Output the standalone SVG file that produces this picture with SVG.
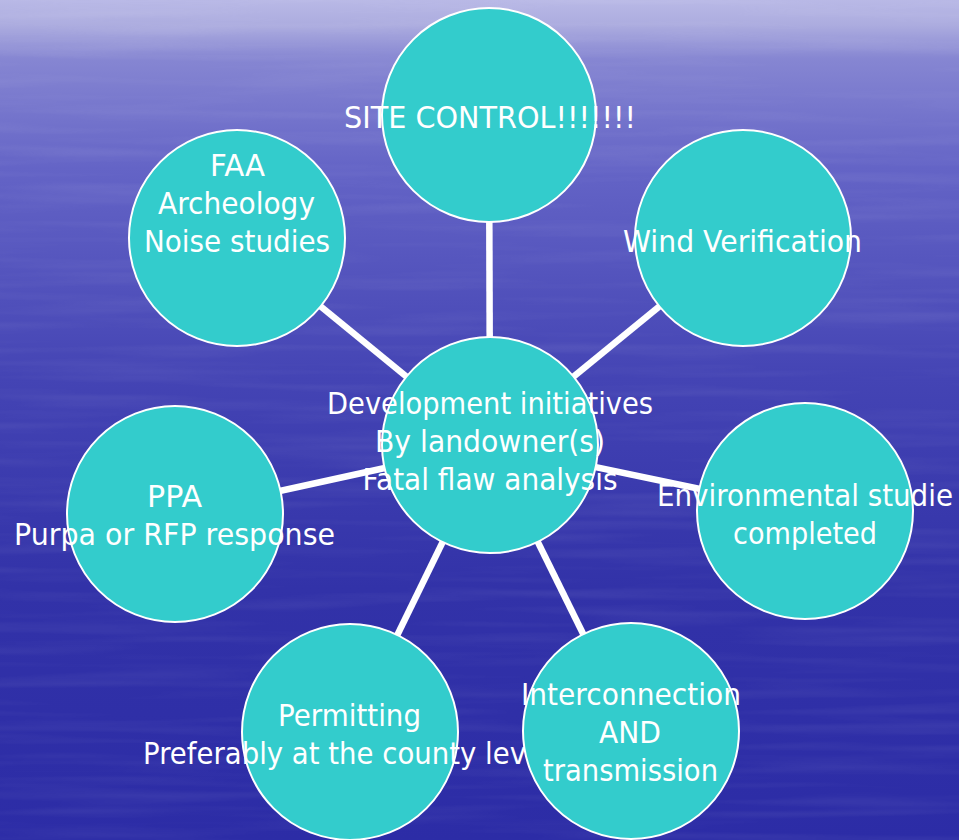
<svg xmlns="http://www.w3.org/2000/svg" width="959" height="840" viewBox="0 0 959 840">
<defs>
<linearGradient id="bg" x1="0" y1="0" x2="0" y2="1">
<stop offset="0" stop-color="#b9b9e6"/>
<stop offset="0.03" stop-color="#acacdf"/>
<stop offset="0.07" stop-color="#8686d2"/>
<stop offset="0.2" stop-color="#6464c6"/>
<stop offset="0.45" stop-color="#4444b4"/>
<stop offset="0.7" stop-color="#3232a8"/>
<stop offset="1" stop-color="#2c2ca6"/>
</linearGradient>
<filter id="streak" x="0" y="0" width="100%" height="100%">
<feTurbulence type="fractalNoise" baseFrequency="0.004 0.09" numOctaves="2" seed="3"/>
<feColorMatrix type="matrix" values="0 0 0 0 1  0 0 0 0 1  0 0 0 0 1  0 0 0 0.5 -0.22"/>
</filter>
<style>
.conn line{stroke:#ffffff;stroke-width:6.5;stroke-linecap:butt}
.node circle{fill:#33cccc;stroke:#ffffff;stroke-width:2}
.node text{fill:#ffffff;font-family:"DejaVu Sans","Liberation Sans",sans-serif;font-size:30px;text-anchor:middle}
</style>
</defs>
<rect width="959" height="840" fill="url(#bg)"/>
<rect width="959" height="840" filter="url(#streak)" opacity="0.28"/>
<g id="connectors" class="conn">
<line x1="490" y1="445" x2="489" y2="115"/>
<line x1="490" y1="445" x2="743" y2="238"/>
<line x1="490" y1="445" x2="237" y2="238"/>
<line x1="490" y1="445" x2="805" y2="511"/>
<line x1="490" y1="445" x2="175" y2="514"/>
<line x1="490" y1="445" x2="350" y2="732"/>
<line x1="490" y1="445" x2="631" y2="731"/>
</g>
<g id="center" class="node">
<circle cx="490" cy="445" r="108"/>
<text x="490" y="414" textLength="326" lengthAdjust="spacingAndGlyphs">Development initiatives</text>
<text x="490" y="452" textLength="230" lengthAdjust="spacingAndGlyphs">By landowner(s)</text>
<text x="490" y="490" textLength="255" lengthAdjust="spacingAndGlyphs">Fatal flaw analysis</text>
</g>
<g id="site-control" class="node">
<circle cx="489" cy="115" r="107"/>
<text x="490" y="128" textLength="292" lengthAdjust="spacingAndGlyphs">SITE CONTROL!!!!!!!</text>
</g>
<g id="wind" class="node">
<circle cx="743" cy="238" r="108"/>
<text x="742.5" y="252" textLength="239" lengthAdjust="spacingAndGlyphs">Wind Verification</text>
</g>
<g id="faa" class="node">
<circle cx="237" cy="238" r="108"/>
<text x="237.5" y="176" textLength="55" lengthAdjust="spacingAndGlyphs">FAA</text>
<text x="236.5" y="214" textLength="157" lengthAdjust="spacingAndGlyphs">Archeology</text>
<text x="237" y="252" textLength="186" lengthAdjust="spacingAndGlyphs">Noise studies</text>
</g>
<g id="ppa" class="node">
<circle cx="175" cy="514" r="108"/>
<text x="174.5" y="507" textLength="55" lengthAdjust="spacingAndGlyphs">PPA</text>
<text x="174.5" y="545" textLength="321" lengthAdjust="spacingAndGlyphs">Purpa or RFP response</text>
</g>
<g id="environmental" class="node">
<circle cx="805" cy="511" r="108"/>
<text x="657" y="506" style="text-anchor:start" textLength="296" lengthAdjust="spacingAndGlyphs">Environmental studie</text>
<text x="805" y="544" textLength="144" lengthAdjust="spacingAndGlyphs">completed</text>
</g>
<g id="permitting" class="node">
<circle cx="350" cy="732" r="108"/>
<text x="349.5" y="726" textLength="143" lengthAdjust="spacingAndGlyphs">Permitting</text>
<text x="143" y="764" style="text-anchor:start" textLength="383" lengthAdjust="spacingAndGlyphs">Preferably at the county lev</text>
</g>
<g id="interconnection" class="node">
<circle cx="631" cy="731" r="108"/>
<text x="631" y="705" textLength="220" lengthAdjust="spacingAndGlyphs">Interconnection</text>
<text x="630" y="743" textLength="62" lengthAdjust="spacingAndGlyphs">AND</text>
<text x="630.5" y="781" textLength="175" lengthAdjust="spacingAndGlyphs">transmission</text>
</g>
</svg>
